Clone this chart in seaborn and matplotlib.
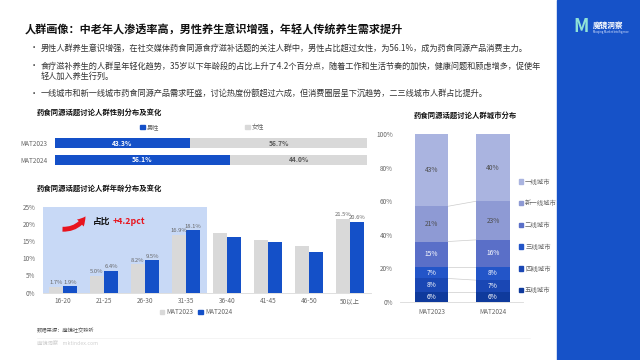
import numpy as np
import pandas as pd
import matplotlib.pyplot as plt
from matplotlib.patches import Patch, Rectangle
import seaborn as sns

sns.set_style('white')
plt.rcParams['font.family'] = ['Noto Sans CJK SC', 'DejaVu Sans']

# ---- data ----
gender_years = ['MAT2023', 'MAT2024']
male_share = [43.3, 56.1]
female_share = [56.7, 44.0]

age_groups = ['16-20', '21-25', '26-30', '31-35', '36-40', '41-45', '46-50', '50以上']
age_2023 = [1.7, 5.0, 8.2, 16.9, 17.3, 15.4, 13.6, 21.5]
age_2024 = [1.9, 6.4, 9.5, 18.1, 16.3, 14.7, 11.9, 20.6]
age_labeled = [True, True, True, True, False, False, False, True]

city_years = ['MAT2023', 'MAT2024']
city_tiers = ['一线城市', '新一线城市', '二线城市', '三线城市', '四线城市', '五线城市']
city_2023 = [43, 21, 15, 7, 8, 6]
city_2024 = [40, 23, 16, 8, 7, 6]

BLUE = '#1450c8'
GRAY = '#d9d9d9'
TXT = '#333333'
TICK = '#666666'
city_colors = ['#aab4e0', '#8e9ad4', '#5a6fc8', '#2355c8', '#1a47b4', '#0f3a9c']

W, H = 640, 360
def box(l, t, r, b):
    return [l / W, 1 - b / H, (r - l) / W, (b - t) / H]
def fxy(x, y):
    return x / W, 1 - y / H

fig = plt.figure(figsize=(6.4, 3.6), dpi=100)
fig.patch.set_facecolor('white')

### right blue strip + logo
fig.patches.append(Rectangle((557 / W, 0), 83 / W, 1, transform=fig.transFigure,
                             color='#1652c8', zorder=0))
fig.text(*fxy(581, 27), 'M', fontsize=13, fontweight='bold', color='#8fe3d8',
         ha='center', va='center')
fig.text(*fxy(593, 25), '魔镜洞察', fontsize=5.5, fontweight='bold', color='white',
         ha='left', va='center')
fig.text(*fxy(593, 32), 'Moojing Market Intelligence', fontsize=2, color='#dfe8ff',
         ha='left', va='center')

### title + bullets
fig.text(*fxy(25, 30), '人群画像：中老年人渗透率高，男性养生意识增强，年轻人传统养生需求提升',
         fontsize=8.0, fontweight='bold', color='#111111', va='center')
bullets = [
    (48, '男性人群养生意识增强，在社交媒体药食同源食疗滋补话题的关注人群中，男性占比超过女性，为56.1%，成为药食同源产品消费主力。'),
    (66, '食疗滋补养生的人群呈年轻化趋势，35岁以下年龄段的占比上升了4.2个百分点，随着工作和生活节奏的加快，健康问题和顾虑增多，促使年'),
    (93, '一线城市和新一线城市药食同源产品需求旺盛，讨论热度份额超过六成，但消费圈层呈下沉趋势，二三线城市人群占比提升。'),
]
for y, t in bullets:
    fig.text(*fxy(30, y), '•', fontsize=6, color=TXT, va='center')
    fig.text(*fxy(41, y), t, fontsize=5.9, color=TXT, va='center')
fig.text(*fxy(41, 76), '轻人加入养生行列。', fontsize=5.9, color=TXT, va='center')

### gender chart
fig.text(*fxy(37, 112), '药食同源话题讨论人群性别分布及变化', fontsize=5.3,
         fontweight='bold', color='#111111', va='center')
ax1 = fig.add_axes(box(55, 134.5, 367, 168.5))
df_g = pd.DataFrame({'year': gender_years, 'male': male_share,
                     'total': [m + f for m, f in zip(male_share, female_share)]})
sns.barplot(data=df_g, x='total', y='year', color=GRAY, width=0.6, saturation=1,
            linewidth=0, ax=ax1)
sns.barplot(data=df_g, x='male', y='year', color=BLUE, width=0.6, saturation=1,
            linewidth=0, ax=ax1)
for i, (m, f) in enumerate(zip(male_share, female_share)):
    ax1.text(m / 2, i, f'{m:.1f}%', color='white', fontsize=4.8, fontweight='bold',
             ha='center', va='center')
    ax1.text(m + f / 2, i, f'{f:.1f}%', color='#595959', fontsize=4.8, fontweight='bold',
             ha='center', va='center')
ax1.set_xlim(0, 100)
ax1.set(xlabel='', ylabel='', xticks=[])
ax1.tick_params(axis='y', left=False, pad=2, labelsize=4.6, labelcolor=TICK)
sns.despine(ax=ax1, left=True, bottom=True)
ax1.legend(handles=[Patch(color=BLUE, label='男性'), Patch(color=GRAY, label='女性')],
           loc='center', bbox_to_anchor=fxy(202, 127), bbox_transform=fig.transFigure,
           ncol=2, frameon=False, fontsize=4.5, handlelength=0.7, handleheight=0.7,
           handletextpad=0.3, columnspacing=13.8, labelcolor=TICK)

### age chart
fig.text(*fxy(37, 188), '药食同源话题讨论人群年龄分布及变化', fontsize=5.3,
         fontweight='bold', color='#111111', va='center')
ax2 = fig.add_axes(box(42.5, 206.7, 370.5, 292.7))
df_a = pd.DataFrame({
    'age': age_groups * 2,
    'share': age_2023 + age_2024,
    'year': ['MAT2023'] * len(age_groups) + ['MAT2024'] * len(age_groups),
})
ax2.axvspan(-0.5, 3.5, color='#c8d9f6', zorder=0, lw=0)
sns.barplot(data=df_a, x='age', y='share', hue='year', palette=[GRAY, BLUE],
            width=0.7, gap=0.04, saturation=1, linewidth=0, legend=False, ax=ax2, zorder=2)
for cont, vals in zip(ax2.containers, [age_2023, age_2024]):
    ax2.bar_label(cont, labels=[f'{v:.1f}%' if lab else '' for v, lab in zip(vals, age_labeled)],
                  fontsize=4.2, color=TICK, padding=1)
ax2.set_xlim(-0.5, 7.5)
ax2.set_ylim(0, 25)
ax2.set_yticks([0, 5, 10, 15, 20, 25])
ax2.set_yticklabels([f'{v}%' for v in [0, 5, 10, 15, 20, 25]])
ax2.set(xlabel='', ylabel='')
ax2.tick_params(axis='both', length=0, labelsize=4.6, labelcolor=TICK)
ax2.tick_params(axis='y', pad=5)
ax2.tick_params(axis='x', pad=3)
sns.despine(ax=ax2, left=True, top=True, right=True)
ax2.spines['bottom'].set_color(GRAY)
ax2.spines['bottom'].set_linewidth(0.6)
ax2.annotate('', xy=(0.58, 22.9), xytext=(-0.08, 18.5),
             arrowprops=dict(arrowstyle='simple,head_width=0.7,head_length=0.6,tail_width=0.35',
                             connectionstyle='arc3,rad=0.35', color='#e8141e', lw=0))
ax2.text(0.72, 20.8, '占比', fontsize=6.3, fontweight='bold', color='#111111', va='center')
ax2.text(1.2, 20.8, '+4.2pct', fontsize=6.3, fontweight='bold', color='#e8141e', va='center')
ax2.legend(handles=[Patch(color=GRAY, label='MAT2023'), Patch(color=BLUE, label='MAT2024')],
           loc='center', bbox_to_anchor=fxy(196, 312), bbox_transform=fig.transFigure,
           ncol=2, frameon=False, fontsize=4.6, handlelength=0.7, handleheight=0.7,
           handletextpad=0.3, columnspacing=0.8, labelcolor=TICK)

### city chart
fig.text(*fxy(465, 115), '药食同源话题讨论人群城市分布', fontsize=5.3,
         fontweight='bold', color='#111111', ha='center', va='center')
ax3 = fig.add_axes(box(400, 134, 523, 302))
bar_w = 0.54
tops_23 = [sum(city_2023[i:]) for i in range(len(city_tiers))]
tops_24 = [sum(city_2024[i:]) for i in range(len(city_tiers))]
for i, tier in enumerate(city_tiers):
    df_c = pd.DataFrame({'year': city_years, 'top': [tops_23[i], tops_24[i]]})
    sns.barplot(data=df_c, x='year', y='top', color=city_colors[i], width=bar_w,
                saturation=1, linewidth=0, ax=ax3, zorder=2)
    for j, (top, v) in enumerate([(tops_23[i], city_2023[i]), (tops_24[i], city_2024[i])]):
        ax3.text(j, top - v / 2, f'{v}%', fontsize=4.8, ha='center', va='center',
                 color='#4d4d4d' if i < 2 else 'white', zorder=3)
for i in range(1, len(city_tiers)):
    ax3.plot([bar_w / 2, 1 - bar_w / 2], [tops_23[i], tops_24[i]], color='#cccccc',
             lw=0.5, zorder=1)
ax3.set_xlim(-0.512, 1.488)
ax3.set_ylim(0, 100)
ax3.set_yticks([0, 20, 40, 60, 80, 100])
ax3.set_yticklabels([f'{v}%' for v in [0, 20, 40, 60, 80, 100]])
ax3.set(xlabel='', ylabel='')
ax3.tick_params(axis='both', length=0, labelsize=4.6, labelcolor=TICK)
ax3.tick_params(axis='y', pad=5)
ax3.tick_params(axis='x', pad=4)
sns.despine(ax=ax3, left=True, top=True, right=True)
ax3.spines['bottom'].set_color(GRAY)
ax3.spines['bottom'].set_linewidth(0.6)
fig.legend(handles=[Patch(color=c, label=t) for c, t in zip(city_colors, city_tiers)],
           loc='upper left', bbox_to_anchor=fxy(513, 172), frameon=False,
           fontsize=4.6, handlelength=0.7, handleheight=0.7, handletextpad=0.3,
           labelspacing=2.15, labelcolor=TICK)

### footer
fig.text(*fxy(37, 331), '数据来源：魔镜社交聆听', fontsize=3.8, color='#555555', va='center')
fig.add_artist(plt.Line2D([37 / W, 530 / W], [1 - 338 / H] * 2, color='#f0f0f0', lw=0.5))
fig.text(*fxy(37, 344), '魔镜洞察    mktindex.com', fontsize=3.8, color='#d0d0d0', va='center')

fig.savefig('out.png', dpi=100)
